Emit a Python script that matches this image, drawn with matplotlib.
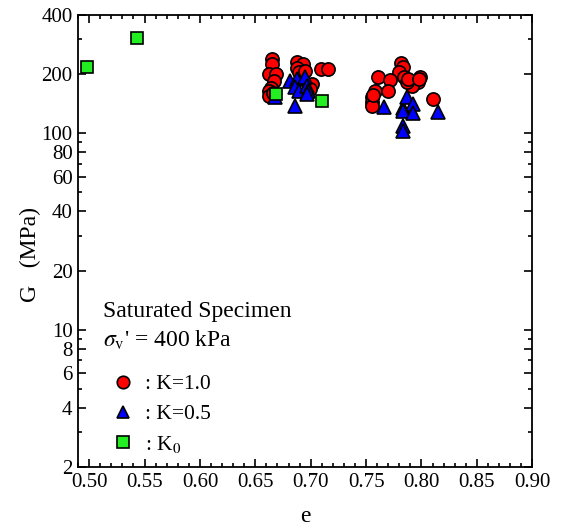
import matplotlib
matplotlib.use("Agg")
import matplotlib.pyplot as plt
from matplotlib.ticker import FixedLocator, NullFormatter, MultipleLocator
from matplotlib.lines import Line2D

plt.rcParams['font.family'] = ['Liberation Serif', 'DejaVu Serif']
plt.rcParams['mathtext.fontset'] = 'stix'

# K = 1.0 (red circles)
e_k10 = [0.665, 0.665, 0.662, 0.669, 0.667, 0.664, 0.662, 0.662, 0.666,
         0.688, 0.693, 0.688, 0.689, 0.695, 0.701, 0.699, 0.709, 0.716,
         0.7815, 0.7835, 0.780, 0.7845, 0.761, 0.772, 0.799, 0.797, 0.7914,
         0.758, 0.770, 0.755, 0.755, 0.755, 0.756, 0.8106, 0.787, 0.788, 0.798]
G_k10 = [239, 225, 200, 200, 184, 170, 164, 154, 160,
         230, 225, 215, 205, 207, 178, 168, 212, 212,
         228, 217, 205, 193, 193, 187, 193, 182, 174,
         164, 164, 153, 144, 138, 157, 149, 182, 189, 188]

# K = 0.5 (blue triangles)
e_k05 = [0.6815, 0.6875, 0.686, 0.689, 0.695, 0.6966, 0.698, 0.697, 0.668, 0.686,
         0.7665, 0.7832, 0.7835, 0.787, 0.7922, 0.792, 0.7835, 0.7835, 0.8153]
G_k05 = [185, 189, 172, 164, 193, 174, 164, 158, 153, 137,
         136, 134, 129, 153, 140, 126, 109, 103, 128]

# K0 (green squares)
e_k0 = [0.498, 0.543, 0.669, 0.710]
G_k0 = [218, 305, 158, 146]

yticks_major = [2, 4, 6, 8, 10, 20, 40, 60, 80, 100, 200, 400]
yticks_minor = [3, 5, 7, 9, 30, 50, 70, 90, 300]
xticks = [0.50, 0.55, 0.60, 0.65, 0.70, 0.75, 0.80, 0.85, 0.90]

fig = plt.figure(figsize=(5.62, 5.29), dpi=100)
ax = fig.add_axes([0.139, 0.117, 0.808, 0.855])

ms = 9.5
ax.plot(e_k10, G_k10, linestyle='none', marker='o', ms=ms, mfc='#FF0000', mec='black', mew=1.2)
ax.plot(e_k05, G_k05, linestyle='none', marker='^', ms=ms, mfc='#0000FF', mec='black', mew=1.2)
ax.plot(e_k0, G_k0, linestyle='none', marker='s', ms=9, mfc='#22EE22', mec='black', mew=1.2)

ax.set_yscale('log')
ax.set_xlim(0.49, 0.90)
ax.set_ylim(2, 400)
ax.yaxis.set_major_locator(FixedLocator(yticks_major))
ax.yaxis.set_minor_locator(FixedLocator(yticks_minor))
ax.yaxis.set_minor_formatter(NullFormatter())
ax.set_yticklabels([str(v) for v in yticks_major])
ax.set_xticks(xticks)
ax.set_xticklabels([f"{v:.2f}" for v in xticks])
ax.xaxis.set_minor_locator(MultipleLocator(0.01))

ax.tick_params(which='both', direction='in', top=True, right=True, labelsize=15, width=1.2)
ax.tick_params(which='major', length=6)
ax.tick_params(which='minor', length=3)
ax.tick_params(axis='x', which='major', pad=4.5)
ax.tick_params(axis='y', which='major', pad=4)
for s in ax.spines.values():
    s.set_linewidth(1.3)

ax.set_xlabel('e', fontsize=17, labelpad=10)
ax.set_ylabel('G   (MPa)', fontsize=17, labelpad=0)
ax.yaxis.label.set_y(0.47)

ax.text(0.055, 0.345, 'Saturated Specimen', transform=ax.transAxes, fontsize=17, va='center')
ax.text(0.055, 0.28, r"$\sigma_{\rm v}$' = 400 kPa", transform=ax.transAxes, fontsize=17, va='center')

handles = [
    Line2D([], [], linestyle='none', marker='o', ms=9, mfc='#FF0000', mec='black', mew=1.2),
    Line2D([], [], linestyle='none', marker='^', ms=9, mfc='#0000FF', mec='black', mew=1.2),
    Line2D([], [], linestyle='none', marker='s', ms=8.5, mfc='#22EE22', mec='black', mew=1.2),
]
labels = [': K=1.0', ': K=0.5', r': K$_0$']
ax.legend(handles, labels, loc='upper left', bbox_to_anchor=(0.047, 0.224), frameon=False,
          fontsize=15.5, handlelength=1.4, handletextpad=0.3, labelspacing=0.45,
          borderaxespad=0)

fig.savefig('out.png', dpi=100)
